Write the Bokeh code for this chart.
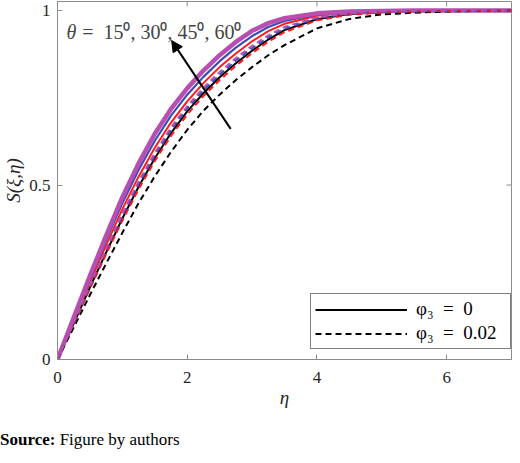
import math
from bokeh.plotting import figure
from bokeh.layouts import column
from bokeh.models import (Range1d, Legend, LegendItem, Label, Arrow,
                          NormalHead, FixedTicker, Div)
from bokeh.embed import file_html
from bokeh.resources import INLINE

# ---- data ----
eta = [0, 0.25, 0.5, 0.75, 1.0, 1.25, 1.5, 1.75, 2.0, 2.25, 2.5, 2.75, 3.0,
       3.25, 3.5, 4.0, 4.5, 5.0, 5.5, 6.0, 7.0]

# phi3 = 0 (solid)
s_t15_phi0 = [0, .103, .207, .307, .404, .495, .577, .649, .711, .763, .809, .849, .885,
              .917, .944, .975, .990, .995, .998, .9995, 1.0]
s_t30_phi0 = [0, .111, .221, .328, .431, .524, .607, .679, .740, .792, .838, .877, .912,
              .941, .962, .985, .9935, .9974, .999, 1.0, 1.0]
s_t45_phi0 = [0, .115, .231, .342, .448, .543, .627, .699, .759, .810, .855, .894, .927,
              .953, .970, .989, .995, .998, .999, 1.0, 1.0]
s_t60_phi0 = [0, .120, .240, .355, .465, .562, .647, .718, .777, .828, .872, .910, .942,
              .964, .978, .992, .997, .999, 1.0, 1.0, 1.0]

# phi3 = 0.02 (dashed)
s_t15_phi2 = [0, .092, .185, .275, .363, .448, .525, .595, .658, .713, .759, .801, .838,
              .872, .901, .949, .976, .989, .994, .9975, 1.0]
s_t30_phi2 = [0, .102, .203, .302, .398, .488, .569, .641, .702, .755, .801, .842, .878,
              .911, .938, .972, .988, .994, .9976, .999, 1.0]
s_t45_phi2 = [0, .105, .210, .313, .411, .502, .584, .657, .719, .771, .816, .857, .892,
              .923, .948, .978, .991, .9959, .9976, .9995, 1.0]
s_t60_phi2 = [0, .107, .214, .318, .418, .510, .592, .665, .726, .779, .824, .864, .899,
              .929, .953, .981, .992, .9967, .9986, 1.0, 1.0]

x_ticks = [0, 2, 4, 6]
y_ticks = [0, 0.5, 1]
y_tick_labels = {0: "0", 0.5: "0.5", 1: "1"}
legend_labels = ["φ₃\u2002=\u20020\u2002", "φ₃\u2002=\u20020.02\u2002"]
theta_text = "=\u200215⁰, 30⁰, 45⁰, 60⁰"
source_html = "<b>Source:</b> Figure by authors"
arrow_tail = (2.67, 0.661)
arrow_head = (1.76, 0.914)
X_MAX = 7
Y_MAX = 1.026

# ---- styles ----
BLACK = "#000000"
RED = "#ff1a1a"
BLUE = "#3b4cb4"
MAGENTA = "#b84fb0"
GREY = "#8c8c8c"
SERIF = "Liberation Serif"

p = figure(width=512, height=430, output_backend="svg", toolbar_location=None,
           x_range=Range1d(0, X_MAX), y_range=Range1d(0, Y_MAX),
           min_border_left=49, min_border_right=1, min_border_top=1,
           min_border_bottom=71)
p.grid.visible = False
p.outline_line_color = GREY
p.background_fill_color = "white"
p.border_fill_color = "white"

for ax in (p.xaxis[0], p.yaxis[0]):
    ax.axis_line_color = GREY
    ax.major_tick_line_color = GREY
    ax.minor_tick_line_color = None
    ax.major_tick_in = 5
    ax.major_tick_out = 0
    ax.major_label_text_font = SERIF
    ax.major_label_text_font_size = "17px"
    ax.major_label_text_color = "#262626"
    ax.axis_label_text_font = SERIF
    ax.axis_label_text_font_style = "italic"
    ax.axis_label_text_font_size = "19px"
    ax.axis_label_text_color = "#262626"

p.xaxis.ticker = FixedTicker(ticks=x_ticks)
p.yaxis.ticker = FixedTicker(ticks=y_ticks)
p.yaxis.major_label_overrides = y_tick_labels
p.xaxis.axis_label = "η"
p.yaxis.axis_label = "S(ξ,η)"
p.xaxis.major_label_standoff = 12
p.yaxis.major_label_standoff = 7
p.xaxis.axis_label_standoff = 1
p.yaxis.axis_label_standoff = 2

# box ticks on top and right (inward)
p.scatter(x_ticks, [Y_MAX] * len(x_ticks), marker="dash", angle=math.pi / 2,
          size=10, line_color=GREY, line_width=1)
p.scatter([X_MAX] * len(y_ticks), y_ticks, marker="dash",
          size=10, line_color=GREY, line_width=1)

# curves: solid first, then dashed
solid = [(s_t15_phi0, BLACK, 2), (s_t30_phi0, RED, 2), (s_t45_phi0, BLUE, 2.2),
         (s_t60_phi0, MAGENTA, 4.5)]
dashed = [(s_t15_phi2, BLACK), (s_t30_phi2, RED), (s_t45_phi2, BLUE), (s_t60_phi2, MAGENTA)]
solid_r = []
dashed_r = []
for ys, c, w in solid:
    solid_r.append(p.line(eta, ys, line_color=c, line_width=w))
for ys, c in dashed:
    dashed_r.append(p.line(eta, ys, line_color=c, line_width=2, line_dash="6 4"))

legend = Legend(items=[LegendItem(label=legend_labels[0], renderers=[solid_r[0]]),
                       LegendItem(label=legend_labels[1], renderers=[dashed_r[0]])],
                location=(253, 10), orientation="vertical",
                border_line_color=BLACK, border_line_width=1,
                background_fill_color="white", background_fill_alpha=1,
                label_text_font=SERIF, label_text_font_size="19px",
                label_text_color="#000000",
                glyph_width=92, glyph_height=17, label_height=17,
                spacing=2, padding=4, margin=0, label_standoff=9)
p.add_layout(legend, "center")

# arrow and theta annotation
p.add_layout(Arrow(end=NormalHead(size=11, fill_color=BLACK, line_color=BLACK),
                   x_start=arrow_tail[0], y_start=arrow_tail[1],
                   x_end=arrow_head[0], y_end=arrow_head[1],
                   line_color=BLACK, line_width=2))
p.add_layout(Label(x=0.14, y=0.938, text="θ", text_font=SERIF,
                   text_font_style="italic", text_font_size="20px",
                   text_baseline="alphabetic"))
p.add_layout(Label(x=0.38, y=0.938, text=theta_text, text_font=SERIF,
                   text_font_size="20px", text_baseline="alphabetic"))

# source note below the chart
note = Div(text=source_html, width=512, height=25, margin=(0, 0, 0, 0),
           styles={"font-family": SERIF, "font-size": "17px",
                   "line-height": "20px", "color": "#000000"})

open("out.html", "w").write(file_html(column(p, note, spacing=0), INLINE))
